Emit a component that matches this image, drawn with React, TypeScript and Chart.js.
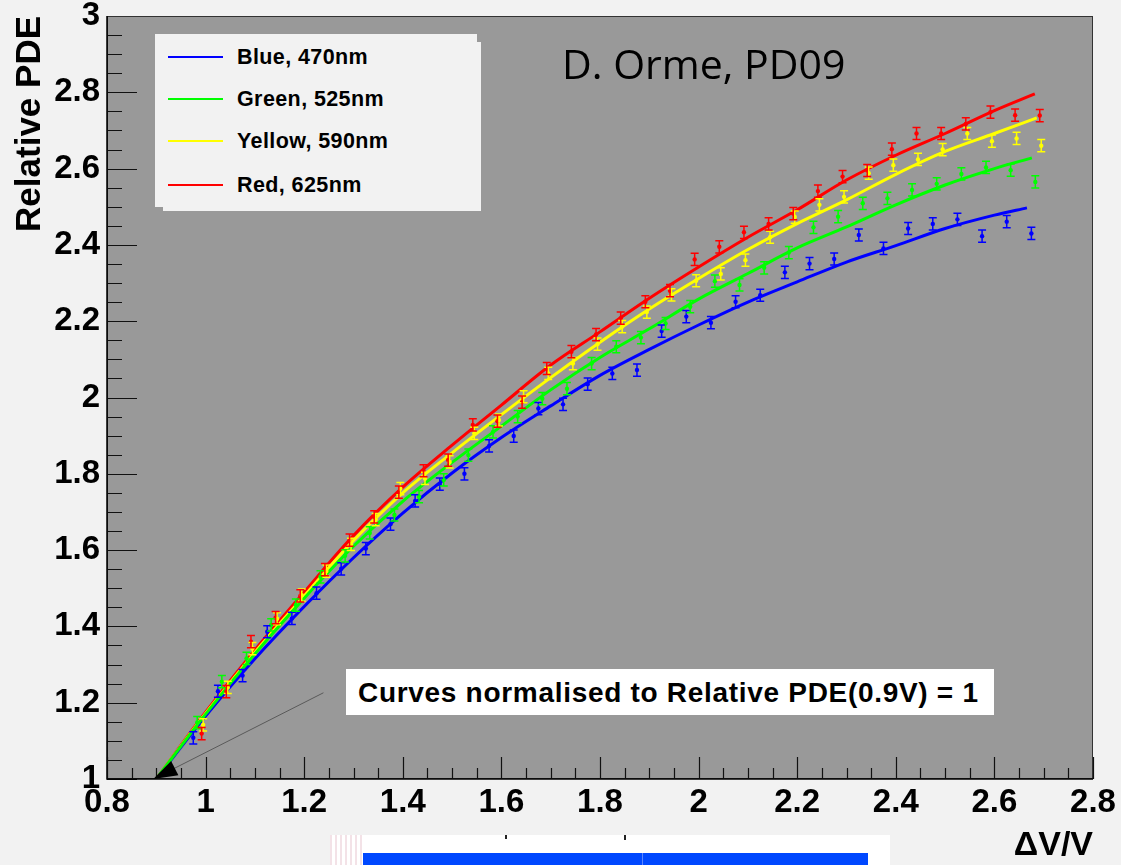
import React, { useEffect, useRef } from "react";
import { Chart, registerables } from "chart.js";

Chart.register(...registerables);

// Axis ticks and labels
const X_TICKS = [0.8, 1, 1.2, 1.4, 1.6, 1.8, 2, 2.2, 2.4, 2.6, 2.8];
const X_TICK_LABELS = ["0.8", "1", "1.2", "1.4", "1.6", "1.8", "2", "2.2", "2.4", "2.6", "2.8"];
const Y_TICKS = [1, 1.2, 1.4, 1.6, 1.8, 2, 2.2, 2.4, 2.6, 2.8, 3];
const Y_TICK_LABELS = ["1", "1.2", "1.4", "1.6", "1.8", "2", "2.2", "2.4", "2.6", "2.8", "3"];

// Fitted curves (relative PDE vs overvoltage)
const BLUE_FIT_X = [0.9, 1.0, 1.1, 1.2, 1.3, 1.4, 1.5, 1.6, 1.7, 1.8, 1.9, 2.0, 2.1, 2.2, 2.3, 2.4, 2.5, 2.6, 2.666];
const BLUE_FIT_Y = [1.0, 1.165, 1.315, 1.452, 1.58, 1.697, 1.802, 1.895, 1.978, 2.058, 2.126, 2.19, 2.25, 2.303, 2.355, 2.398, 2.443, 2.478, 2.497];
const GREEN_FIT_X = [0.9, 1.0, 1.1, 1.2, 1.3, 1.4, 1.5, 1.6, 1.7, 1.8, 1.9, 2.0, 2.1, 2.2, 2.3, 2.4, 2.5, 2.6, 2.676];
const GREEN_FIT_Y = [1.0, 1.17, 1.328, 1.474, 1.61, 1.728, 1.83, 1.925, 2.02, 2.105, 2.18, 2.258, 2.325, 2.392, 2.447, 2.505, 2.557, 2.6, 2.628];
const YELLOW_FIT_X = [0.9, 1.0, 1.1, 1.2, 1.3, 1.4, 1.5, 1.6, 1.7, 1.8, 1.9, 2.0, 2.1, 2.2, 2.3, 2.4, 2.5, 2.6, 2.686];
const YELLOW_FIT_Y = [1.0, 1.172, 1.332, 1.48, 1.625, 1.75, 1.855, 1.955, 2.052, 2.145, 2.232, 2.312, 2.388, 2.456, 2.518, 2.585, 2.645, 2.692, 2.733];
const RED_FIT_X = [0.9, 1.0, 1.1, 1.2, 1.3, 1.4, 1.5, 1.6, 1.7, 1.8, 1.9, 2.0, 2.1, 2.2, 2.3, 2.4, 2.5, 2.6, 2.682];
const RED_FIT_Y = [1.0, 1.175, 1.338, 1.49, 1.638, 1.765, 1.875, 1.98, 2.085, 2.172, 2.26, 2.342, 2.42, 2.492, 2.57, 2.635, 2.692, 2.752, 2.796];

// Measured points
const BLUE_X = [0.975, 1.025, 1.075, 1.125, 1.175, 1.225, 1.275, 1.325, 1.375, 1.425, 1.475, 1.525, 1.575, 1.625, 1.675, 1.725, 1.775, 1.825, 1.875, 1.925, 1.975, 2.025, 2.075, 2.125, 2.175, 2.225, 2.275, 2.325, 2.375, 2.425, 2.475, 2.525, 2.575, 2.625, 2.675];
const BLUE_Y = [1.108, 1.23, 1.271, 1.386, 1.421, 1.487, 1.551, 1.604, 1.668, 1.729, 1.773, 1.8, 1.873, 1.899, 1.971, 1.982, 2.035, 2.063, 2.072, 2.174, 2.212, 2.196, 2.251, 2.268, 2.328, 2.351, 2.363, 2.426, 2.391, 2.443, 2.455, 2.467, 2.423, 2.461, 2.43];
const GREEN_X = [0.983, 1.033, 1.083, 1.133, 1.183, 1.233, 1.283, 1.333, 1.383, 1.433, 1.483, 1.533, 1.583, 1.633, 1.683, 1.733, 1.783, 1.833, 1.883, 1.933, 1.983, 2.033, 2.083, 2.133, 2.183, 2.233, 2.283, 2.333, 2.383, 2.433, 2.483, 2.533, 2.583, 2.633, 2.683];
const GREEN_Y = [1.148, 1.255, 1.316, 1.404, 1.456, 1.53, 1.585, 1.645, 1.692, 1.74, 1.784, 1.849, 1.91, 1.95, 1.997, 2.023, 2.089, 2.133, 2.157, 2.194, 2.238, 2.305, 2.295, 2.34, 2.38, 2.446, 2.474, 2.509, 2.522, 2.544, 2.56, 2.586, 2.603, 2.596, 2.565];
const YELLOW_X = [0.995, 1.045, 1.095, 1.145, 1.195, 1.245, 1.295, 1.345, 1.395, 1.445, 1.495, 1.545, 1.595, 1.645, 1.695, 1.745, 1.795, 1.845, 1.895, 1.945, 1.995, 2.045, 2.095, 2.145, 2.195, 2.245, 2.295, 2.345, 2.395, 2.445, 2.495, 2.545, 2.595, 2.645, 2.695];
const YELLOW_Y = [1.142, 1.24, 1.342, 1.42, 1.482, 1.545, 1.615, 1.68, 1.761, 1.788, 1.831, 1.906, 1.941, 2.002, 2.063, 2.089, 2.14, 2.186, 2.224, 2.269, 2.306, 2.324, 2.36, 2.42, 2.473, 2.505, 2.526, 2.588, 2.609, 2.624, 2.65, 2.692, 2.672, 2.679, 2.66];
const RED_X = [0.992, 1.042, 1.092, 1.142, 1.192, 1.242, 1.292, 1.342, 1.392, 1.442, 1.492, 1.542, 1.592, 1.642, 1.692, 1.742, 1.792, 1.842, 1.892, 1.942, 1.992, 2.042, 2.092, 2.142, 2.192, 2.242, 2.292, 2.342, 2.392, 2.442, 2.492, 2.542, 2.592, 2.642, 2.692];
const RED_Y = [1.119, 1.229, 1.36, 1.423, 1.48, 1.549, 1.626, 1.687, 1.752, 1.808, 1.836, 1.928, 1.938, 1.988, 2.076, 2.12, 2.165, 2.208, 2.251, 2.28, 2.362, 2.395, 2.433, 2.455, 2.482, 2.541, 2.579, 2.595, 2.651, 2.692, 2.692, 2.717, 2.748, 2.74, 2.739];

// Half-height of the error bars, in PDE units
const ERR_HALF = 0.016;

// Pointer from the annotation to the normalisation point (data coordinates)
const ARROW_FROM = [1.239, 1.226];
const ARROW_TO = [0.894, 1.0];

const SERIES = [
  { label: "Blue, 470nm", color: "#0000ff", fitX: BLUE_FIT_X, fitY: BLUE_FIT_Y, x: BLUE_X, y: BLUE_Y, order: 11 },
  { label: "Green, 525nm", color: "#00ff00", fitX: GREEN_FIT_X, fitY: GREEN_FIT_Y, x: GREEN_X, y: GREEN_Y, order: 10 },
  { label: "Yellow, 590nm", color: "#ffff00", fitX: YELLOW_FIT_X, fitY: YELLOW_FIT_Y, x: YELLOW_X, y: YELLOW_Y, order: 12 },
  { label: "Red, 625nm", color: "#ff0000", fitX: RED_FIT_X, fitY: RED_FIT_Y, x: RED_X, y: RED_Y, order: 13 },
];

const FONT = "'Liberation Sans', Arial, Helvetica, sans-serif";

const framePlugin = {
  id: "rootFrame",
  beforeDraw(chart: any) {
    const { ctx, chartArea: a } = chart;
    ctx.save();
    ctx.fillStyle = "#f2f2f2";
    ctx.fillRect(0, 0, chart.width, chart.height);
    ctx.fillStyle = "#999999";
    ctx.fillRect(a.left, a.top, a.right - a.left, a.bottom - a.top);
    ctx.restore();
  },
  afterDatasetsDraw(chart: any) {
    const { ctx } = chart;
    const xs = chart.scales.x;
    const ys = chart.scales.y;
    ctx.save();
    ctx.lineWidth = 1.5;
    SERIES.forEach((s) => {
      ctx.strokeStyle = s.color;
      s.x.forEach((xv: number, i: number) => {
        const px = xs.getPixelForValue(xv);
        const top = ys.getPixelForValue(s.y[i] + ERR_HALF);
        const bot = ys.getPixelForValue(s.y[i] - ERR_HALF);
        ctx.beginPath();
        ctx.moveTo(px, top);
        ctx.lineTo(px, bot);
        ctx.moveTo(px - 4, top);
        ctx.lineTo(px + 4, top);
        ctx.moveTo(px - 4, bot);
        ctx.lineTo(px + 4, bot);
        ctx.stroke();
      });
    });
    ctx.restore();
  },
  afterDraw(chart: any) {
    const { ctx, chartArea: a } = chart;
    const xs = chart.scales.x;
    const ys = chart.scales.y;
    ctx.save();
    // tick marks inside the frame
    ctx.strokeStyle = "#111111";
    ctx.lineWidth = 1.2;
    ctx.beginPath();
    for (let i = 0; i <= 40; i++) {
      const py = Math.round(ys.getPixelForValue(1 + i * 0.05)) + 0.5;
      const len = i % 4 === 0 ? 30 : 15;
      ctx.moveTo(a.left, py);
      ctx.lineTo(a.left + len, py);
      const px = Math.round(xs.getPixelForValue(0.8 + i * 0.05)) + 0.5;
      const lx = i % 4 === 0 ? 22 : 11;
      ctx.moveTo(px, a.bottom);
      ctx.lineTo(px, a.bottom - lx);
    }
    ctx.stroke();
    // frame
    ctx.strokeStyle = "#333333";
    ctx.lineWidth = 1;
    ctx.strokeRect(a.left + 0.5, a.top + 0.5, a.right - a.left - 1, a.bottom - a.top - 1);
    ctx.strokeStyle = "#000000";
    ctx.lineWidth = 1.5;
    ctx.beginPath();
    ctx.moveTo(a.left, a.top);
    ctx.lineTo(a.left, a.bottom);
    ctx.lineTo(a.right, a.bottom);
    ctx.stroke();
    // pointer line and arrow head
    const x0 = xs.getPixelForValue(ARROW_FROM[0]);
    const y0 = ys.getPixelForValue(ARROW_FROM[1]);
    const x1 = xs.getPixelForValue(ARROW_TO[0]);
    const y1 = ys.getPixelForValue(ARROW_TO[1]);
    const ang = Math.atan2(y1 - y0, x1 - x0);
    ctx.strokeStyle = "#5a5a5a";
    ctx.lineWidth = 1;
    ctx.beginPath();
    ctx.moveTo(x0, y0);
    ctx.lineTo(x1 - 18 * Math.cos(ang), y1 - 18 * Math.sin(ang));
    ctx.stroke();
    ctx.fillStyle = "#000000";
    ctx.beginPath();
    ctx.moveTo(x1, y1);
    ctx.lineTo(x1 - 24 * Math.cos(ang) + 8 * Math.sin(ang), y1 - 24 * Math.sin(ang) - 8 * Math.cos(ang));
    ctx.lineTo(x1 - 24 * Math.cos(ang) - 8 * Math.sin(ang), y1 - 24 * Math.sin(ang) + 8 * Math.cos(ang));
    ctx.closePath();
    ctx.fill();
    ctx.restore();
  },
};

export default function App() {
  const canvasRef = useRef<HTMLCanvasElement>(null);

  useEffect(() => {
    const canvas = canvasRef.current;
    if (!canvas) return;
    const datasets: any[] = [];
    SERIES.forEach((s) => {
      datasets.push({
        type: "line",
        label: s.label,
        data: s.fitX.map((x, i) => ({ x, y: s.fitY[i] })),
        borderColor: s.color,
        borderWidth: 3,
        pointRadius: 0,
        fill: false,
        cubicInterpolationMode: "monotone",
        order: s.order,
      });
    });
    SERIES.forEach((s, k) => {
      datasets.push({
        type: "scatter",
        label: s.label + " data",
        data: s.x.map((x, i) => ({ x, y: s.y[i] })),
        pointRadius: 2.2,
        pointBorderWidth: 0,
        pointBackgroundColor: s.color,
        backgroundColor: s.color,
        showLine: false,
        order: 1 + k,
      });
    });

    const tickFont = { family: FONT, size: 33, weight: "bold" as const };
    const chart = new Chart(canvas, {
      type: "scatter",
      data: { datasets },
      options: {
        responsive: false,
        animation: false,
        devicePixelRatio: 1,
        events: [],
        layout: { padding: { left: 0, top: 16, right: 28, bottom: 0 } },
        plugins: {
          legend: { display: false },
          tooltip: { enabled: false },
          title: { display: false },
        },
        scales: {
          x: {
            type: "linear",
            position: "bottom",
            min: 0.8,
            max: 2.8,
            afterBuildTicks: (s: any) => {
              s.ticks = X_TICKS.map((v) => ({ value: v }));
            },
            afterFit: (s: any) => {
              s.height = 86;
              s.paddingLeft = 0;
              s.paddingRight = 0;
            },
            ticks: {
              callback: (_v: any, i: number) => X_TICK_LABELS[i],
              font: tickFont,
              color: "#000000",
              padding: 4,
              maxRotation: 0,
              autoSkip: false,
            },
            grid: { display: false, drawTicks: false },
            border: { display: false },
            title: {
              display: true,
              text: "ΔV/V",
              align: "end",
              color: "#000000",
              font: { family: FONT, size: 34, weight: "bold" },
              padding: { top: 0, bottom: -1 },
            },
          },
          y: {
            type: "linear",
            position: "left",
            min: 1,
            max: 3,
            afterBuildTicks: (s: any) => {
              s.ticks = Y_TICKS.map((v) => ({ value: v }));
            },
            afterFit: (s: any) => {
              s.width = 107;
              s.paddingTop = 0;
              s.paddingBottom = 0;
            },
            ticks: {
              callback: (_v: any, i: number) => Y_TICK_LABELS[i],
              font: tickFont,
              color: "#000000",
              padding: 7,
              autoSkip: false,
            },
            grid: { display: false, drawTicks: false },
            border: { display: false },
            title: {
              display: true,
              text: "Relative PDE",
              align: "end",
              color: "#000000",
              font: { family: FONT, size: 35, weight: "bold" },
              padding: { top: 9, bottom: 0 },
            },
          },
        },
      } as any,
      plugins: [framePlugin],
    });
    return () => chart.destroy();
  }, []);

  const legendText: React.CSSProperties = {
    position: "absolute",
    left: 237,
    fontFamily: FONT,
    fontWeight: "bold",
    fontSize: 21.5,
    lineHeight: "22px",
    letterSpacing: 0.4,
    color: "#000",
    whiteSpace: "nowrap",
  };
  const rowsY = [57, 99, 141, 185];

  return (
    <div
      style={{
        position: "fixed",
        left: 0,
        top: 0,
        width: 1121,
        height: 865,
        background: "#f2f2f2",
        overflow: "hidden",
      }}
    >
      <canvas ref={canvasRef} width={1121} height={865} style={{ position: "absolute", left: 0, top: 0 }} />

      {/* legend */}
      <div style={{ position: "absolute", left: 163, top: 42, width: 318, height: 169, background: "#f2f2f2" }} />
      <div style={{ position: "absolute", left: 155, top: 34, width: 322, height: 173, background: "#f2f2f2" }} />
      {SERIES.map((s, i) => (
        <React.Fragment key={s.label}>
          <div
            style={{
              position: "absolute",
              left: 168,
              top: rowsY[i] - 1,
              width: 55,
              height: 2,
              background: s.color,
            }}
          />
          <div style={{ ...legendText, top: rowsY[i] - 11 }}>{s.label}</div>
        </React.Fragment>
      ))}

      {/* author tag */}
      <div
        style={{
          position: "absolute",
          left: 562,
          top: 43,
          fontFamily: "'Open Sans', sans-serif",
          fontSize: 41,
          lineHeight: "41px",
          color: "#000",
          whiteSpace: "nowrap",
        }}
      >
        D. Orme, PD09
      </div>

      {/* normalisation note */}
      <div
        style={{
          position: "absolute",
          left: 346,
          top: 669,
          width: 648,
          height: 46,
          background: "#ffffff",
        }}
      />
      <div
        style={{
          position: "absolute",
          left: 358,
          top: 679,
          fontFamily: FONT,
          fontWeight: "bold",
          fontSize: 28,
          lineHeight: "28px",
          letterSpacing: 0.7,
          color: "#000",
          whiteSpace: "nowrap",
        }}
      >
        Curves normalised to Relative PDE(0.9V) = 1
      </div>

      {/* strip below the axis */}
      <div style={{ position: "absolute", left: 330, top: 835, width: 560, height: 30, background: "#ffffff" }} />
      <div
        style={{
          position: "absolute",
          left: 330,
          top: 835,
          width: 32,
          height: 30,
          background: "repeating-linear-gradient(90deg, #f3e2e7 0px, #f3e2e7 2px, #ffffff 2px, #ffffff 5px)",
        }}
      />
      <div style={{ position: "absolute", left: 505, top: 835, width: 2, height: 4, background: "#222" }} />
      <div style={{ position: "absolute", left: 624, top: 835, width: 2, height: 5, background: "#222" }} />
      <div style={{ position: "absolute", left: 363, top: 853, width: 505, height: 12, background: "#0048ff" }} />
      <div style={{ position: "absolute", left: 642, top: 853, width: 1, height: 12, background: "#5a86ff" }} />
    </div>
  );
}
